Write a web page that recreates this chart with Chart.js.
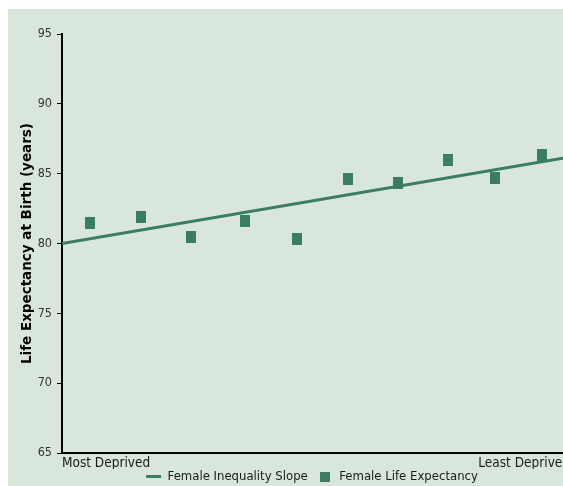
<!DOCTYPE html>
<html>
<head>
<meta charset="utf-8">
<script src="https://cdn.jsdelivr.net/npm/chart.js@4.4.1/dist/chart.umd.min.js"></script>
<style>
  html, body { margin: 0; padding: 0; background: #fff; overflow: hidden; width: 563px; height: 486px; }
  #panel { position: absolute; left: 8px; top: 9px; width: 608px; height: 477px; background: #d9e6dc; }
  #panel canvas { display: block; }
</style>
</head>
<body>
<div id="panel"><canvas id="chart" width="608" height="477"></canvas></div>
<script>
// position of each group along the deprivation axis, most deprived first
const deprivationRank = [1, 2.03, 3.02, 4.08, 5.13, 6.13, 7.13, 8.12, 9.06, 10];
const lifeExpectancy = [81.45, 81.9, 80.45, 81.6, 80.35, 84.65, 84.35, 85.95, 84.7, 86.35];

// fitted slope, read at both ends of the axis
const slopeX = [0.45, 10.55];
const slopeY = [80.0, 86.2];

const xEndLabels = ['Most Deprived', 'Least Deprived'];
const yTicks = [65, 70, 75, 80, 85, 90, 95];

const green = '#3b7d60';
const FONT = '"Liberation Sans Narrow", "DejaVu Sans Condensed", "Liberation Sans", sans-serif';

// the markers are slightly taller than wide
const marker = document.createElement('canvas');
marker.width = 10;
marker.height = 12;
const mctx = marker.getContext('2d');
mctx.fillStyle = green;
mctx.fillRect(0, 0, 10, 12);

const legendSquare = document.createElement('canvas');
legendSquare.width = 10;
legendSquare.height = 10;
const lctx = legendSquare.getContext('2d');
lctx.fillStyle = green;
lctx.fillRect(0, 0, 10, 10);

// the legend sits tight under the axis labels
const tightLegend = {
    id: 'tightLegend',
    beforeLayout: chart => {
        const legend = chart.legend;
        if (legend && !legend._tight) {
            const fit = legend.fit;
            legend.fit = function () {
                fit.call(this);
                this.height = 17;
            };
            legend._tight = true;
        }
    },
    afterLayout: chart => {
        // pull the items up; the box keeps its bottom so nothing is clipped
        chart.legend.top -= 9;
    }
};

const ctx = document.getElementById('chart').getContext('2d');

new Chart(ctx, {
    type: 'scatter',
    data: {
        datasets: [
            {
                type: 'line',
                label: 'Female Inequality Slope',
                data: slopeX.map((x, i) => ({ x, y: slopeY[i] })),
                borderColor: green,
                backgroundColor: green,
                borderWidth: 3,
                pointRadius: 0,
                pointStyle: 'line',
                order: 1
            },
            {
                label: 'Female Life Expectancy',
                data: deprivationRank.map((x, i) => ({ x, y: lifeExpectancy[i] })),
                pointStyle: marker,
                backgroundColor: green,
                borderColor: green,
                order: 0
            }
        ]
    },
    plugins: [tightLegend],
    options: {
        responsive: false,
        animation: false,
        devicePixelRatio: 1,
        layout: { padding: { left: 0, right: 0, top: 25, bottom: 0 } },
        plugins: {
            tooltip: { enabled: false },
            legend: {
                position: 'bottom',
                labels: {
                    usePointStyle: true,
                    pointStyleWidth: 15,
                    boxHeight: 10,
                    padding: 10,
                    color: '#1a1a1a',
                    font: { family: FONT, size: 13 },
                    sort: (a, b) => a.datasetIndex - b.datasetIndex,
                    generateLabels: chart => chart.data.datasets.map((ds, i) => ({
                        text: ds.label,
                        datasetIndex: i,
                        fillStyle: green,
                        strokeStyle: green,
                        lineWidth: 3,
                        pointStyle: ds.type === 'line' ? 'line' : legendSquare,
                        fontColor: '#1a1a1a'
                    }))
                }
            }
        },
        scales: {
            x: {
                type: 'linear',
                min: 0.45,
                max: 10.55,
                afterBuildTicks: scale => {
                    scale.ticks = [{ value: scale.min }, { value: scale.max }];
                },
                afterFit: scale => {
                    scale.height = 16;
                    scale.paddingRight = 46;
                },
                ticks: {
                    align: 'inner',
                    padding: 2,
                    color: '#1a1a1a',
                    font: { family: FONT, size: 13.5 },
                    callback: (v, i) => xEndLabels[i]
                },
                grid: { display: false, drawTicks: false },
                border: { color: '#000', width: 2 }
            },
            y: {
                min: 65,
                max: 95,
                afterBuildTicks: scale => {
                    scale.ticks = yTicks.map(v => ({ value: v }));
                },
                afterFit: scale => { scale.width = 54; },
                ticks: {
                    padding: 5,
                    color: '#333',
                    font: { family: FONT, size: 12.5 }
                },
                grid: { drawOnChartArea: false, drawTicks: true, tickLength: 5, color: '#000' },
                border: { color: '#000', width: 2 },
                title: {
                    display: true,
                    text: 'Life Expectancy at Birth (years)',
                    color: '#000',
                    font: { family: '"DejaVu Sans", sans-serif', size: 13.5, weight: 'bold' },
                    padding: { top: 11, bottom: 0 }
                }
            }
        }
    }
});
</script>
</body>
</html>
